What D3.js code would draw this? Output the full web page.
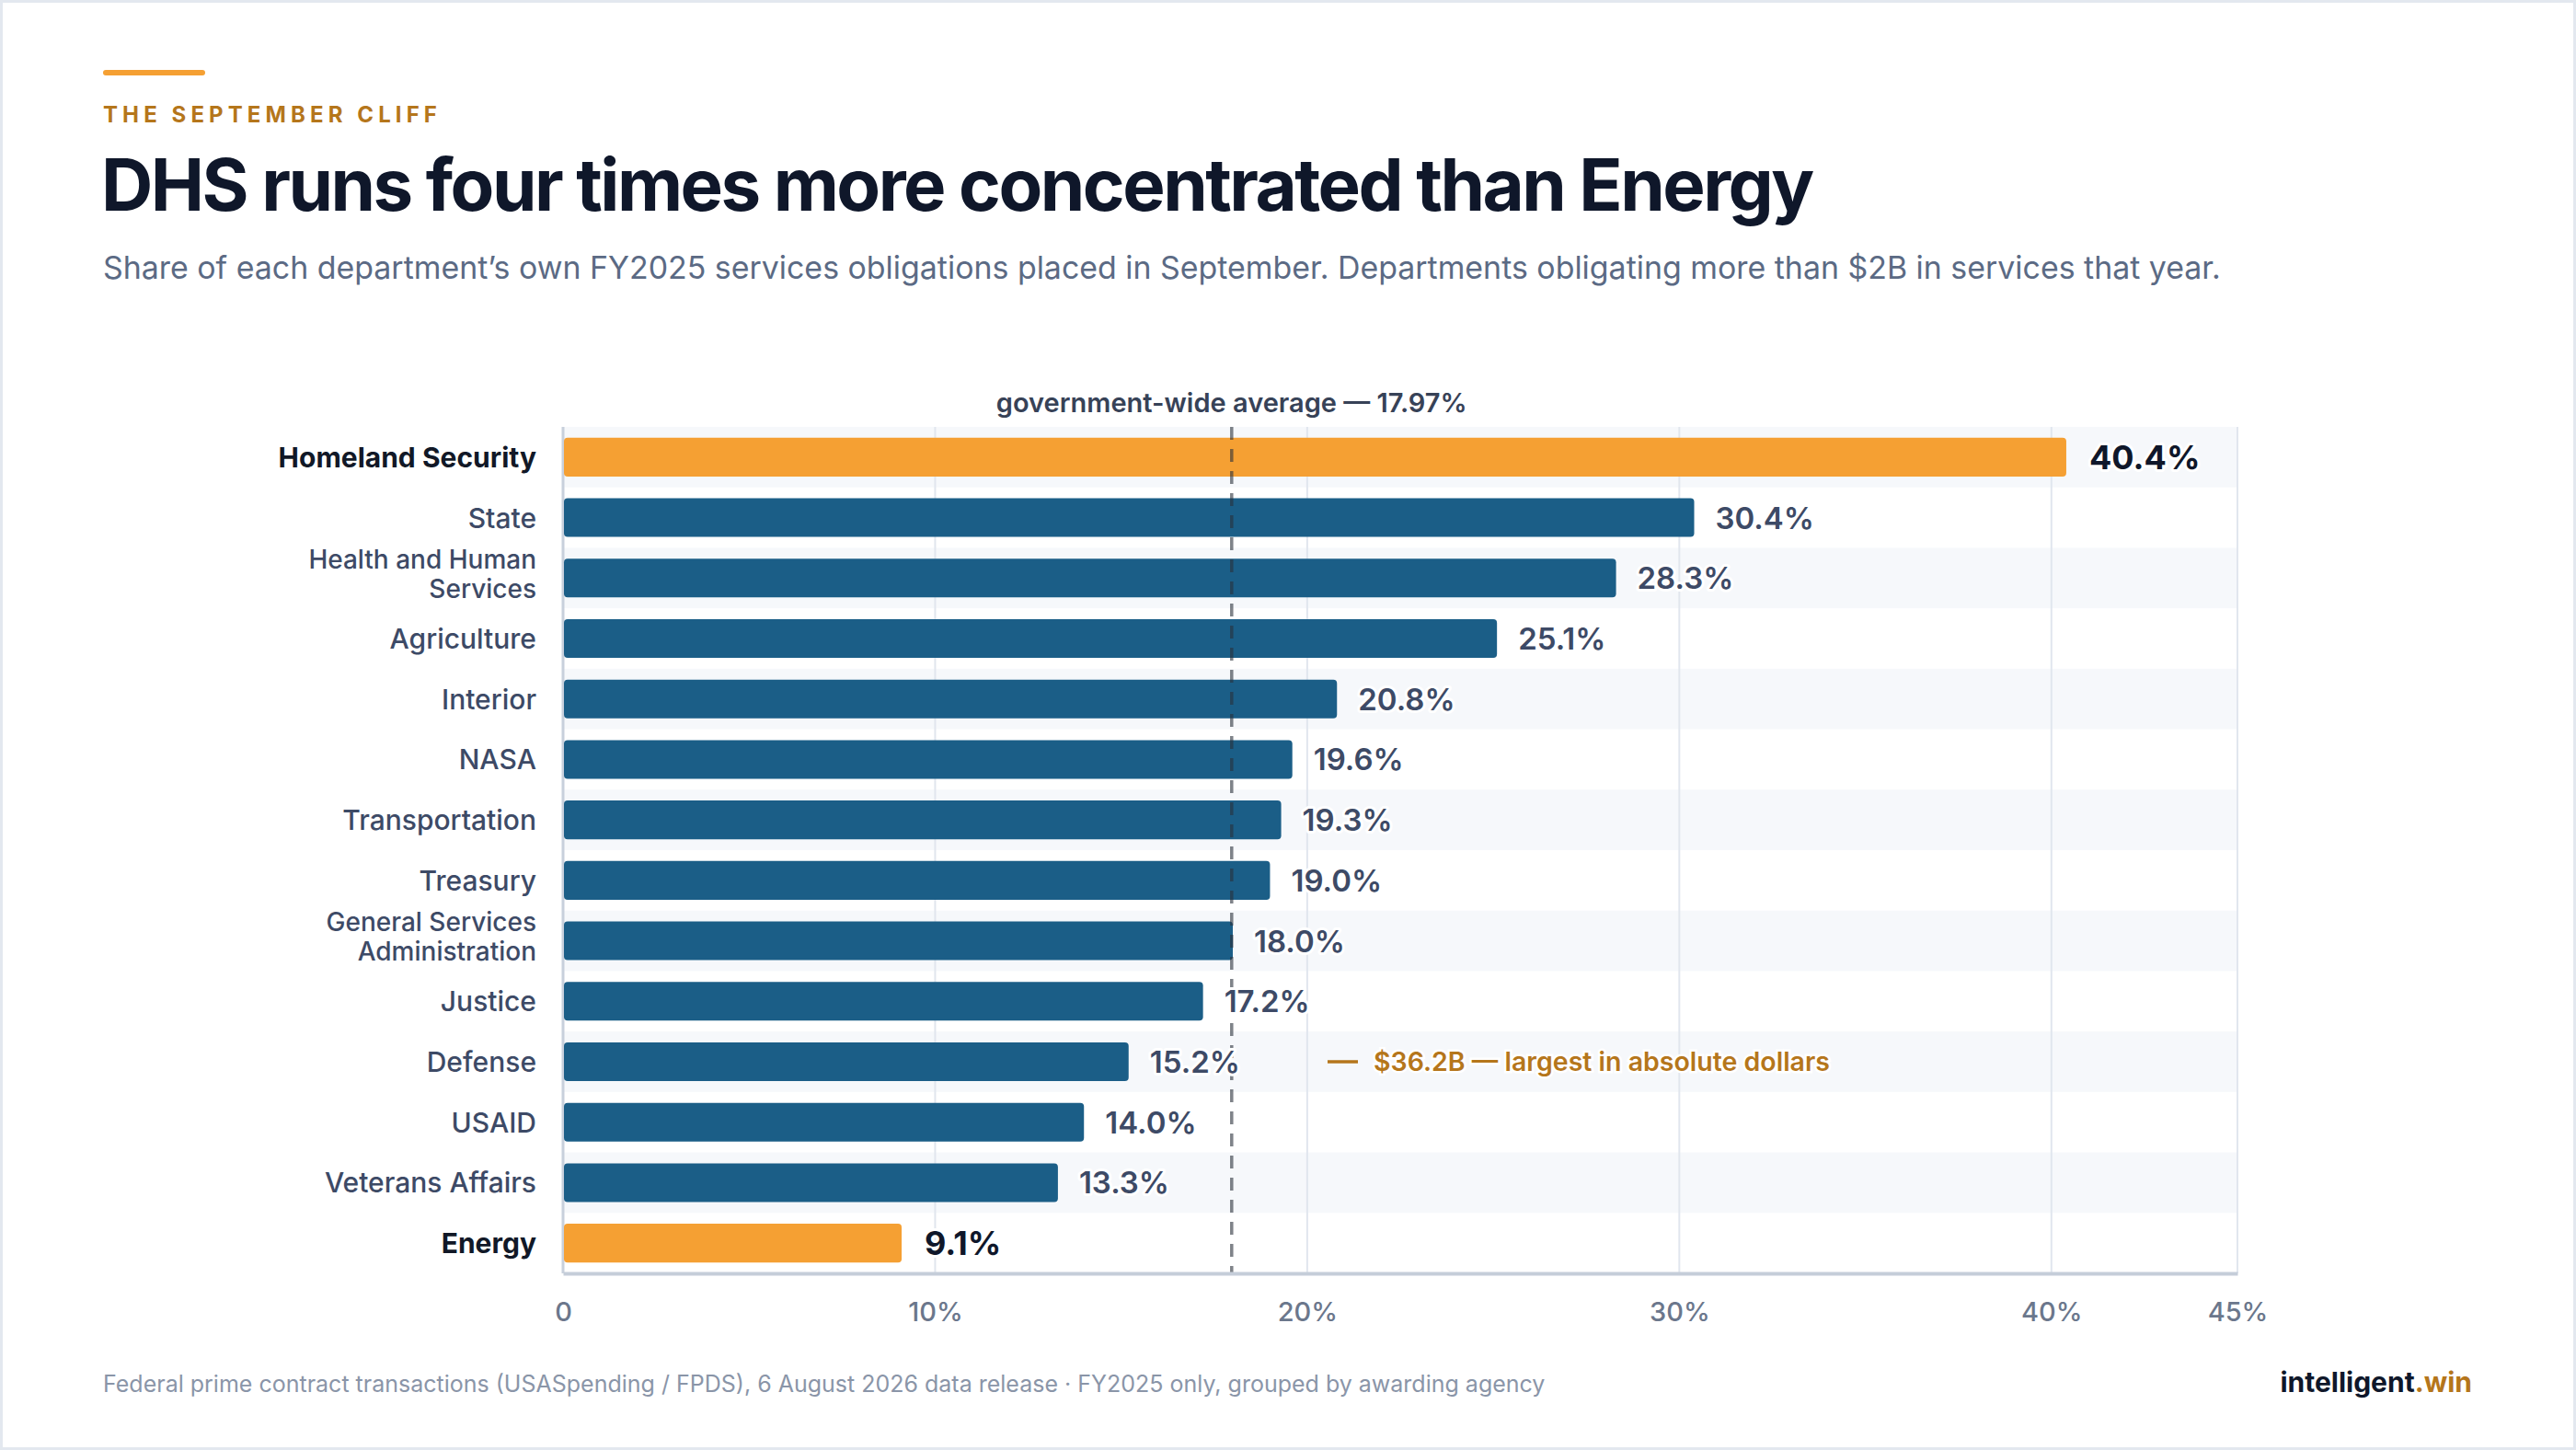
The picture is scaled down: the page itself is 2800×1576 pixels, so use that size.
<!DOCTYPE html>
<html>
<head>
<meta charset="utf-8">
<script src="https://cdn.jsdelivr.net/npm/d3@7"></script>
<style>
  html, body { margin: 0; padding: 0; background: #ffffff; }
  svg { display: block; font-family: Inter, "Noto Sans", sans-serif; }
</style>
</head>
<body>
<svg id="chart" width="2800" height="1576"></svg>
<script>
// Datos del gráfico
const departments = [
  "Homeland Security", "State", "Health and Human Services", "Agriculture",
  "Interior", "NASA", "Transportation", "Treasury",
  "General Services Administration", "Justice", "Defense", "USAID",
  "Veterans Affairs", "Energy"
];
const septemberShare = [40.4, 30.4, 28.3, 25.1, 20.8, 19.6, 19.3, 19.0, 18.0, 17.2, 15.2, 14.0, 13.3, 9.1];
const highlighted = ["Homeland Security", "Energy"];
const labelLines = [
  ["Homeland Security"], ["State"], ["Health and Human", "Services"], ["Agriculture"],
  ["Interior"], ["NASA"], ["Transportation"], ["Treasury"],
  ["General Services", "Administration"], ["Justice"], ["Defense"], ["USAID"],
  ["Veterans Affairs"], ["Energy"]
];
const xTicks = [0, 10, 20, 30, 40, 45];
const xTickLabels = ["0", "10%", "20%", "30%", "40%", "45%"];
const govAverage = 17.97;
const annotationDept = "Defense";
const annotationText = "$36.2B — largest in absolute dollars";

const data = departments.map((d, i) => ({
  name: d,
  value: septemberShare[i],
  lines: labelLines[i],
  hi: highlighted.includes(d)
}));

const svg = d3.select("#chart");
const W = 2800, H = 1576;
const margin = { top: 464, right: 368, bottom: 192, left: 612 };

// Marco
svg.append("rect")
  .attr("x", 1.5).attr("y", 1.5)
  .attr("width", W - 3).attr("height", H - 3)
  .attr("fill", "#ffffff")
  .attr("stroke", "#e3e8ef")
  .attr("stroke-width", 3);

// Encabezado
svg.append("rect")
  .attr("x", 112).attr("y", 76)
  .attr("width", 111).attr("height", 6)
  .attr("rx", 3)
  .attr("fill", "#f5a033");

svg.append("text")
  .attr("x", 112).attr("y", 133)
  .attr("font-size", 24).attr("font-weight", 700)
  .attr("letter-spacing", 5.1)
  .attr("fill", "#b5761b")
  .text("THE SEPTEMBER CLIFF");

svg.append("text")
  .attr("x", 110).attr("y", 229)
  .attr("font-size", 78).attr("font-weight", 700)
  .attr("letter-spacing", -2.5)
  .attr("fill", "#0f172a")
  .text("DHS runs four times more concentrated than Energy");

svg.append("text")
  .attr("x", 112).attr("y", 303)
  .attr("font-size", 33.9).attr("font-weight", 400)
  .attr("fill", "#5b6a84")
  .text("Share of each department’s own FY2025 services obligations placed in September. Departments obligating more than $2B in services that year.");

// Escalas
const x = d3.scaleLinear()
  .domain([0, 45])
  .range([margin.left, W - margin.right]);

const y = d3.scaleBand()
  .domain(departments)
  .range([margin.top, H - margin.bottom])
  .padding(0);

const barH = y.bandwidth() * 0.64;

// Bandas alternas
svg.append("g")
  .selectAll("rect")
  .data(data.filter((d, i) => i % 2 === 0))
  .enter()
  .append("rect")
  .attr("x", x(0))
  .attr("y", d => y(d.name))
  .attr("width", x(45) - x(0))
  .attr("height", y.bandwidth())
  .attr("fill", "#f6f8fb");

// Rejilla vertical
svg.append("g")
  .selectAll("line")
  .data(xTicks.filter(t => t > 0))
  .enter()
  .append("line")
  .attr("x1", d => x(d)).attr("x2", d => x(d))
  .attr("y1", margin.top).attr("y2", H - margin.bottom)
  .attr("stroke", "#e1e6ee")
  .attr("stroke-width", 2);

// Eje izquierdo
svg.append("line")
  .attr("x1", x(0)).attr("x2", x(0))
  .attr("y1", margin.top).attr("y2", H - margin.bottom)
  .attr("stroke", "#c8d0dc")
  .attr("stroke-width", 3);

// Barras
svg.append("g")
  .selectAll("rect")
  .data(data)
  .enter()
  .append("rect")
  .attr("x", x(0) + 1)
  .attr("y", d => y(d.name) + (y.bandwidth() - barH) / 2)
  .attr("width", d => x(d.value) - x(0) - 1)
  .attr("height", barH)
  .attr("rx", 4)
  .attr("fill", d => d.hi ? "#f5a033" : "#1b5e87");

// Línea de promedio
svg.append("line")
  .attr("x1", x(govAverage)).attr("x2", x(govAverage))
  .attr("y1", margin.top).attr("y2", H - margin.bottom)
  .attr("stroke", "#2a303b")
  .attr("stroke-opacity", 0.6)
  .attr("stroke-width", 3.5)
  .attr("stroke-dasharray", "14,10");

svg.append("text")
  .attr("x", x(govAverage)).attr("y", 448)
  .attr("text-anchor", "middle")
  .attr("font-size", 29).attr("font-weight", 600)
  .attr("fill", "#374257")
  .text("government-wide average — " + govAverage.toFixed(2) + "%");

// Etiquetas de categoría
const catG = svg.append("g");
data.forEach(d => {
  const cy = y(d.name) + y.bandwidth() / 2;
  const t = catG.append("text")
    .attr("x", 583)
    .attr("text-anchor", "end")
    .attr("font-size", d.lines.length === 1 ? 30 : 28)
    .attr("font-weight", d.hi ? 700 : 500)
    .attr("fill", d.hi ? "#111827" : "#3d4a66");
  if (d.lines.length === 1) {
    t.attr("y", cy + 11).text(d.lines[0]);
  } else {
    d.lines.forEach((line, j) => {
      t.append("tspan")
        .attr("x", 583)
        .attr("y", cy - 10.5 + j * 32)
        .text(line);
    });
  }
});

// Etiquetas de valor
svg.append("g")
  .selectAll("text")
  .data(data)
  .enter()
  .append("text")
  .attr("x", d => x(d.value) + (d.hi ? 25 : 23))
  .attr("y", d => y(d.name) + y.bandwidth() / 2 + (d.hi ? 13 : 12))
  .attr("font-size", d => d.hi ? 36 : 33)
  .attr("font-weight", d => d.hi ? 700 : 600)
  .attr("fill", d => d.hi ? "#0f172a" : "#3d4a66")
  .attr("stroke", "#ffffff")
  .attr("stroke-width", 6)
  .attr("stroke-linejoin", "round")
  .attr("paint-order", "stroke")
  .text(d => d.value.toFixed(1) + "%");

// Anotación Defense
const annY = y(annotationDept) + y.bandwidth() / 2;
svg.append("line")
  .attr("x1", 1443).attr("x2", 1476)
  .attr("y1", annY).attr("y2", annY)
  .attr("stroke", "#b5761b")
  .attr("stroke-width", 3.5);

svg.append("text")
  .attr("x", 1493).attr("y", annY + 10)
  .attr("font-size", 28.5).attr("font-weight", 600)
  .attr("fill", "#b5761b")
  .attr("stroke", "#ffffff")
  .attr("stroke-width", 5)
  .attr("paint-order", "stroke")
  .text(annotationText);

// Eje inferior
const xAxis = svg.append("g")
  .attr("transform", `translate(0, ${H - margin.bottom})`)
  .call(d3.axisBottom(x)
    .tickValues(xTicks)
    .tickFormat((d, i) => xTickLabels[i])
    .tickSize(0)
    .tickPadding(52));

xAxis.select(".domain")
  .attr("stroke", "#c5cdd9")
  .attr("stroke-width", 4);

xAxis.selectAll(".tick text")
  .attr("font-family", "Inter, 'Noto Sans', sans-serif")
  .attr("font-size", 29)
  .attr("font-weight", 500)
  .attr("fill", "#6b778c")
  .attr("dy", "0");

// Pie
svg.append("text")
  .attr("x", 112).attr("y", 1513)
  .attr("font-size", 25).attr("font-weight", 400)
  .attr("fill", "#8a95a8")
  .text("Federal prime contract transactions (USASpending / FPDS), 6 August 2026 data release · FY2025 only, grouped by awarding agency");

const brand = svg.append("text")
  .attr("x", 2687).attr("y", 1513)
  .attr("text-anchor", "end")
  .attr("font-size", 30).attr("font-weight", 700)
  .attr("fill", "#0f172a");
brand.append("tspan").text("intelligent");
brand.append("tspan").attr("fill", "#b5761b").text(".win");
</script>
</body>
</html>
